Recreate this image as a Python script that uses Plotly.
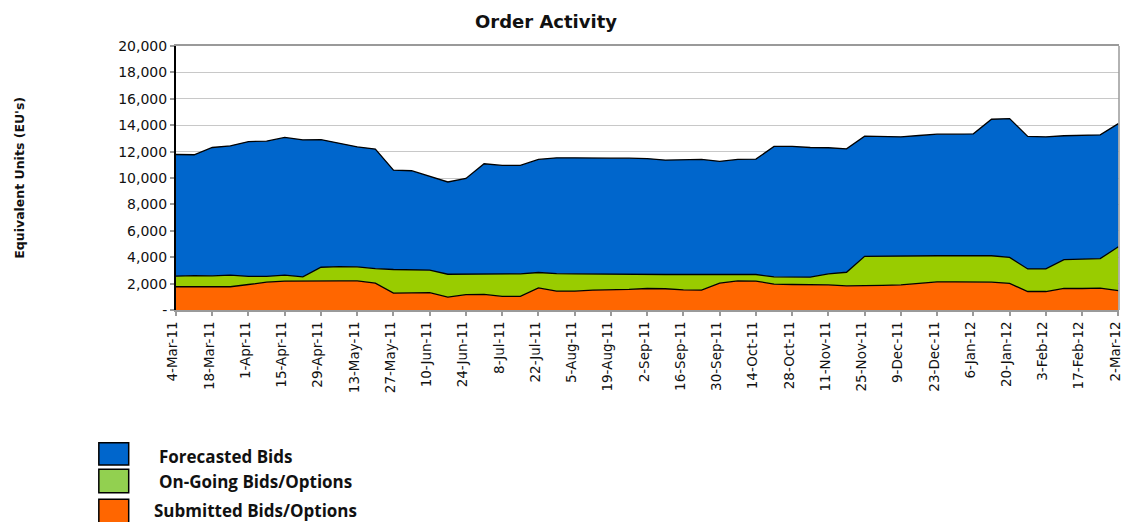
import pandas as pd
import plotly.graph_objects as go

# weekly order activity, 4-Mar-11 .. 2-Mar-12
weeks = pd.date_range("2011-03-04", periods=53, freq="7D")

submitted = [1760, 1760, 1730, 1760, 1930, 2110, 2190, 2210, 2210, 2210,
             2210, 2040, 1280, 1300, 1310, 980, 1160, 1180, 1030, 1030,
             1680, 1430, 1430, 1510, 1530, 1560, 1630, 1610, 1530, 1510,
             2040, 2210, 2190, 1960, 1930, 1930, 1910, 1830, 1830, 1870,
             1910, 2030, 2130, 2130, 2130, 2110, 2010, 1400, 1400, 1630,
             1630, 1660, 1460]
ongoing = [800, 850, 860, 880, 610, 430, 450, 300, 1030, 1080,
           1060, 1100, 1790, 1750, 1710, 1730, 1550, 1560, 1710, 1710,
           1160, 1330, 1310, 1210, 1180, 1150, 1070, 1080, 1160, 1180,
           620, 450, 500, 550, 560, 560, 830, 1030, 2240, 2220,
           2200, 2080, 1980, 1980, 1980, 2000, 1980, 1710, 1710, 2180,
           2230, 2230, 3330]
forecasted = [9220, 9150, 9720, 9800, 10220, 10250, 10430, 10380, 9670, 9350,
              9090, 9050, 7530, 7500, 7080, 6990, 7260, 8340, 8210, 8210,
              8570, 8770, 8790, 8780, 8790, 8790, 8770, 8670, 8720, 8720,
              8600, 8750, 8740, 9880, 9900, 9820, 9550, 9350, 9100, 9070,
              9010, 9110, 9210, 9210, 9240, 10340, 10510, 10040, 10010, 9390,
              9360, 9380, 9330]

y_ticks = list(range(0, 20001, 2000))
y_labels = ["-"] + [f"{v:,}" for v in y_ticks[1:]]

series = [
    ("Submitted Bids/Options", submitted, "#FF6600"),
    ("On-Going Bids/Options", ongoing, "#99CC00"),
    ("Forecasted Bids", forecasted, "#0066CC"),
]

FONT = "DejaVu Sans"
L, R, T, B = 176, 1123, 46, 310   # plot area in pixels


def px(x):
    return (x - L) / (R - L)


def py(y):
    return (B - y) / (B - T)


fig = go.Figure()
for name, vals, fill in series:
    fig.add_trace(go.Scatter(
        x=weeks, y=vals, name=name, mode="lines", stackgroup="one",
        line=dict(color="black", width=1.3), fillcolor=fill,
        showlegend=False,
    ))

shapes = [dict(type="line", xref="paper", yref="paper", x0=1, x1=1, y0=0, y1=1,
               line=dict(color="#9a9a9a", width=1.5))]
annotations = [dict(
    text="<b>Equivalent Units (EU's)</b>", xref="paper", yref="paper",
    x=px(18), y=0.5, xanchor="center", yanchor="middle", textangle=-90,
    showarrow=False, font=dict(family=FONT, size=12.5, color="#111"),
)]

# legend drawn by hand: big boxed swatches, text to the right
legend_rows = [
    ("Forecasted Bids", "#0066CC", 442.7, 465, 157, 456),
    ("On-Going Bids/Options", "#92D050", 469.3, 492.7, 157, 482),
    ("Submitted Bids/Options", "#FF6600", 499.3, 524, 152, 511),
]
for text, col, y0, y1, tx, ty in legend_rows:
    shapes.append(dict(type="rect", xref="paper", yref="paper",
                       x0=px(98.5), x1=px(128.5), y0=py(y1), y1=py(y0),
                       fillcolor=col, line=dict(color="black", width=1.5)))
    annotations.append(dict(
        text=f"<b>{text}</b>", xref="paper", yref="paper", x=px(tx), y=py(ty),
        xanchor="left", yanchor="middle", showarrow=False,
        font=dict(family="Open Sans", size=17, color="#111"),
    ))

fig.update_layout(
    width=1125, height=522,
    margin=dict(l=L, r=1125 - R, t=T, b=522 - B),
    paper_bgcolor="white", plot_bgcolor="white",
    title=dict(text="<b>Order Activity</b>", xref="container", yref="container",
               x=546 / 1125, y=1 - 22 / 522, xanchor="center", yanchor="middle",
               font=dict(family=FONT, size=18, color="#111")),
    xaxis=dict(
        range=[weeks[0], weeks[-1] + pd.Timedelta(hours=6)],
        tickvals=weeks[::2], tickformat="%-d-%b-%y",
        tickangle=-90, tickfont=dict(family=FONT, size=13.5, color="#111"),
        ticklabeloverflow="allow", ticklabelshift=-3,
        showgrid=False, showline=True, linecolor="#9a9a9a", linewidth=2,
        mirror=True, ticks="outside", ticklen=4, tickcolor="#9a9a9a", tickwidth=1.5,
    ),
    yaxis=dict(
        range=[0, 20000], tickvals=y_ticks, ticktext=y_labels,
        tickfont=dict(family=FONT, size=14, color="#111"),
        showgrid=True, gridcolor="#c8c8c8", gridwidth=1,
        showline=True, linecolor="black", linewidth=2,
        ticks="outside", ticklen=4, tickcolor="#9a9a9a", tickwidth=1.5,
        zeroline=False,
    ),
    shapes=shapes, annotations=annotations,
)

fig.write_html("out.html", config={"displayModeBar": False},
               post_script="document.body.style.margin='0';"
                           "document.body.style.overflow='hidden';")
